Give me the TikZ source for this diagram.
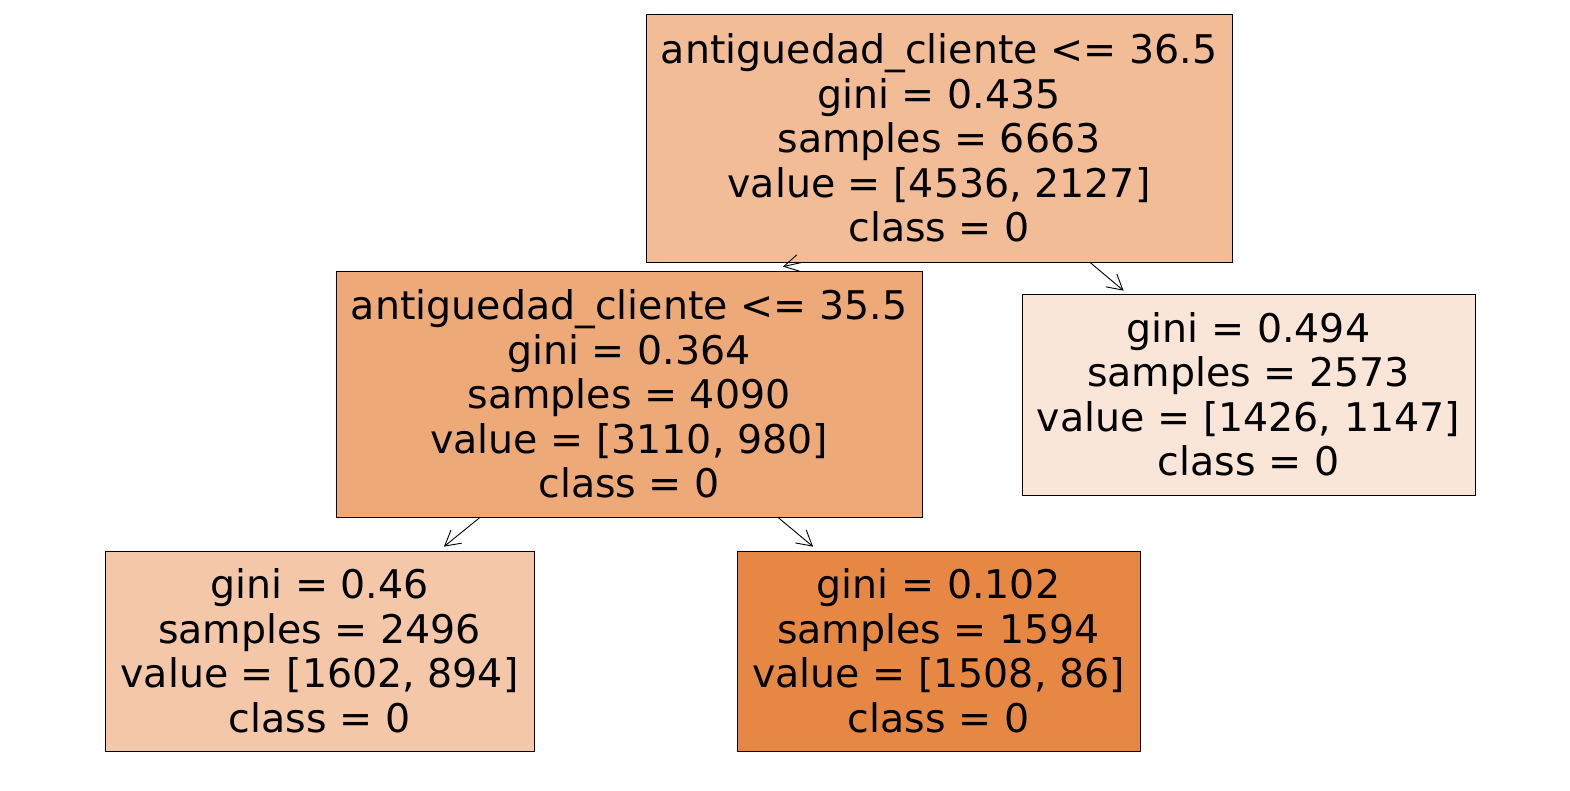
\documentclass[tikz,border=0pt]{standalone}
\usepackage{fontspec}
\setmainfont{DejaVu Sans}
\usetikzlibrary{arrows.meta}
\definecolor{rootcol}{RGB}{241,188,150}
\definecolor{leftcol}{RGB}{237,169,120}
\definecolor{rightcol}{RGB}{250,230,216}
\definecolor{llcol}{RGB}{243,199,167}
\definecolor{lrcol}{RGB}{230,136,68}
\begin{document}
\begin{tikzpicture}[x=1pt,y=-1pt,
    treenode/.style={draw,line width=0.8pt,align=center,inner sep=0pt,font=\fontsize{39.5}{44.5}\selectfont},
    edge/.style={-{Straight Barb[length=15pt,width=17pt]},line width=0.9pt}]
                \useasboundingbox (0,0) rectangle (1570,790);
                \node[treenode,fill=rootcol,minimum width=586pt,minimum height=248pt] (root) at (939,138) {antiguedad\_cliente <= 36.5\\gini = 0.435\\samples = 6663\\value = [4536, 2127]\\class = 0};
                \node[treenode,fill=leftcol,minimum width=586pt,minimum height=246pt] (left) at (629,394) {antiguedad\_cliente <= 35.5\\gini = 0.364\\samples = 4090\\value = [3110, 980]\\class = 0};
                \node[treenode,fill=rightcol,minimum width=453pt,minimum height=201pt] (right) at (1248.5,394.5) {gini = 0.494\\samples = 2573\\value = [1426, 1147]\\class = 0};
                \node[treenode,fill=llcol,minimum width=429pt,minimum height=200pt] (leftleft) at (319.5,651) {gini = 0.46\\samples = 2496\\value = [1602, 894]\\class = 0};
                \node[treenode,fill=lrcol,minimum width=403pt,minimum height=200pt] (leftright) at (938.5,651) {gini = 0.102\\samples = 1594\\value = [1508, 86]\\class = 0};
                \draw[edge] ([xshift=-137pt]root.south) -- ([xshift=154pt,yshift=4pt]left.north);
                \draw[edge] ([xshift=151pt]root.south) -- ([xshift=-125pt,yshift=3pt]right.north);
                \draw[edge] ([xshift=-149pt]left.south) -- ([xshift=124.5pt,yshift=4pt]leftleft.north);
                \draw[edge] ([xshift=149pt]left.south) -- ([xshift=-125.5pt,yshift=4pt]leftright.north);
            \end{tikzpicture}
\end{document}
